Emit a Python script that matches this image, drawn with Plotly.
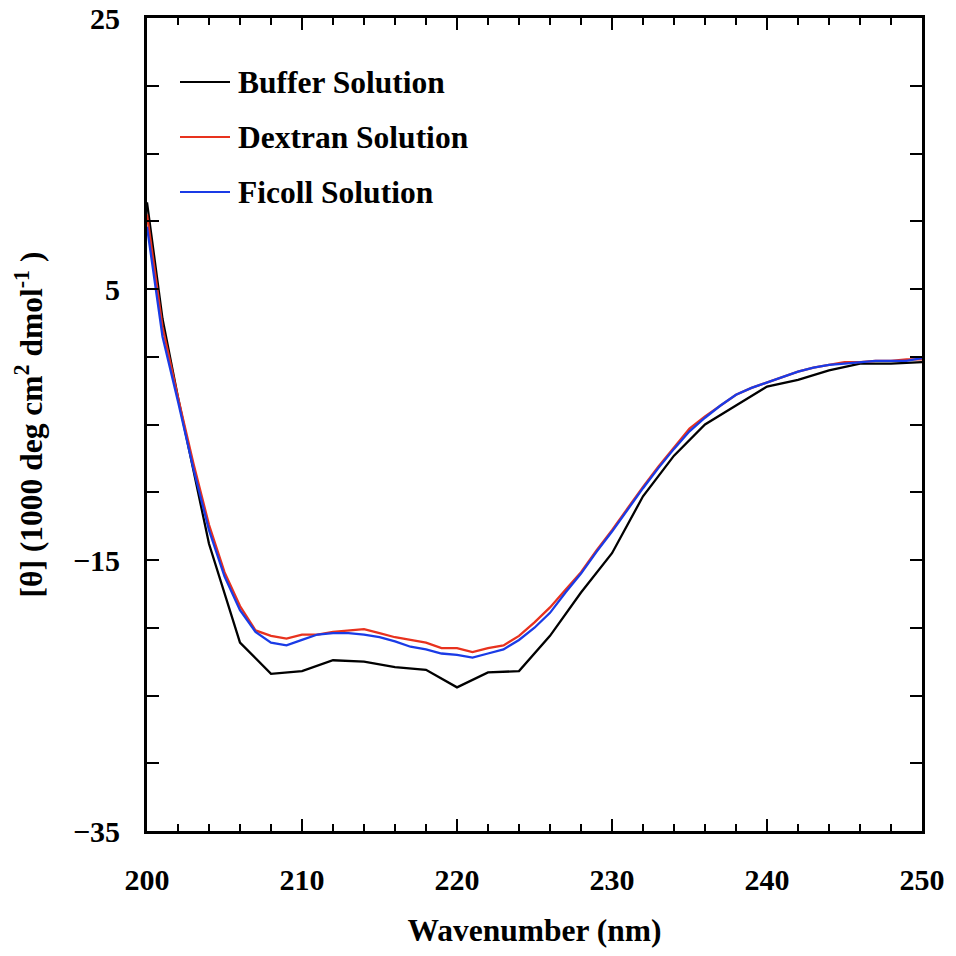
import plotly.graph_objects as go

# Wavelength grids (nm)
wl_buffer = [200, 201, 202, 203, 204, 206, 208, 210, 212, 214, 216, 218, 220, 222,
             224, 226, 228, 230, 232, 234, 236, 238, 240, 242, 244, 246, 248, 250]
wl_fine = list(range(200, 251))

# Mean residue ellipticity, 1000 deg cm^2 dmol^-1
theta_buffer = [11.4, 2.8, -3.0, -8.3, -13.8, -21.1, -23.4, -23.2, -22.4, -22.5, -22.9, -23.1,
                -24.4, -23.3, -23.2, -20.6, -17.4, -14.5, -10.3, -7.3, -5.0, -3.6, -2.2, -1.7,
                -1.0, -0.5, -0.5, -0.4]
theta_dextran = [10.5, 2.2, -3.0, -7.9, -12.4, -15.9, -18.4, -20.2, -20.6, -20.8, -20.5, -20.5,
                 -20.3, -20.2, -20.1, -20.4, -20.7, -20.9, -21.1, -21.5, -21.5, -21.8, -21.5,
                 -21.3, -20.6, -19.6, -18.5, -17.2, -15.9, -14.3, -12.8, -11.2, -9.6, -8.1,
                 -6.7, -5.3, -4.4, -3.6, -2.8, -2.3, -1.9, -1.5, -1.1, -0.8, -0.6, -0.4, -0.4,
                 -0.3, -0.3, -0.2, -0.2]
theta_ficoll = [9.6, 1.5, -3.3, -8.3, -12.8, -16.2, -18.7, -20.3, -21.1, -21.3, -20.9, -20.5,
                -20.4, -20.4, -20.5, -20.7, -21.0, -21.4, -21.6, -21.9, -22.0, -22.2, -21.9,
                -21.6, -20.9, -20.0, -18.9, -17.4, -16.0, -14.4, -12.9, -11.3, -9.7, -8.2,
                -6.8, -5.5, -4.5, -3.6, -2.8, -2.3, -1.9, -1.5, -1.1, -0.8, -0.6, -0.5, -0.4,
                -0.3, -0.3, -0.3, -0.1]

series_names = ["Buffer Solution", "Dextran Solution", "Ficoll Solution"]
series_colors = ["#000000", "#e8321e", "#1a3be6"]

FONT = "Liberation Serif"
BOLD = dict(family=FONT, color="black", weight="bold")

# plot area in pixels, used to place the key
L, R, T, B = 147, 922, 18, 831


def px_x(px):
    return (px - L) / (R - L)


def px_y(py):
    return (B - py) / (B - T)


fig = go.Figure()
for name, xs, ys, color in zip(series_names,
                               [wl_buffer, wl_fine, wl_fine],
                               [theta_buffer, theta_dextran, theta_ficoll],
                               series_colors):
    fig.add_trace(go.Scatter(x=xs, y=ys, mode="lines", name=name, showlegend=False,
                             line=dict(color=color, width=2.3)))

# key: a short line sample followed by the series name
for i, (name, color) in enumerate(zip(series_names, series_colors)):
    row_y = px_y(82 + 55 * i)
    fig.add_shape(type="line", xref="paper", yref="paper",
                  x0=px_x(180), x1=px_x(230), y0=row_y, y1=row_y,
                  line=dict(color=color, width=2))
    fig.add_annotation(xref="paper", yref="paper", x=px_x(236), y=row_y,
                       xanchor="left", yanchor="middle", showarrow=False,
                       text=name, font=dict(size=31.5, **BOLD))

axis_common = dict(
    showline=True, linecolor="black", linewidth=3, mirror="ticks",
    ticks="inside", tickcolor="black", tickwidth=2, ticklen=12,
    showgrid=False, zeroline=False, automargin=False,
    tickfont=dict(size=30, **BOLD),
)

fig.update_layout(
    width=956, height=956,
    margin=dict(l=L, r=956 - R, t=T, b=956 - B),
    paper_bgcolor="white", plot_bgcolor="white",
    font=BOLD,
    xaxis=dict(range=[200, 250], tick0=200, dtick=10, ticklabelstandoff=20,
               minor=dict(dtick=2, ticks="inside", ticklen=7, tickwidth=2, tickcolor="black"),
               title=dict(text="Wavenumber (nm)", standoff=24,
                          font=dict(size=31.5, **BOLD)),
               **axis_common),
    yaxis=dict(range=[-35, 25], tick0=-35, dtick=20, ticklabelstandoff=18,
               minor=dict(dtick=5, ticks="inside", ticklen=12, tickwidth=2, tickcolor="black"),
               title=dict(text="[θ] (1000 deg cm<sup>2</sup> dmol<sup>-1</sup> )", standoff=21,
                          font=dict(size=31.5, **BOLD)),
               **axis_common),
)

fig.write_html("out.html")
